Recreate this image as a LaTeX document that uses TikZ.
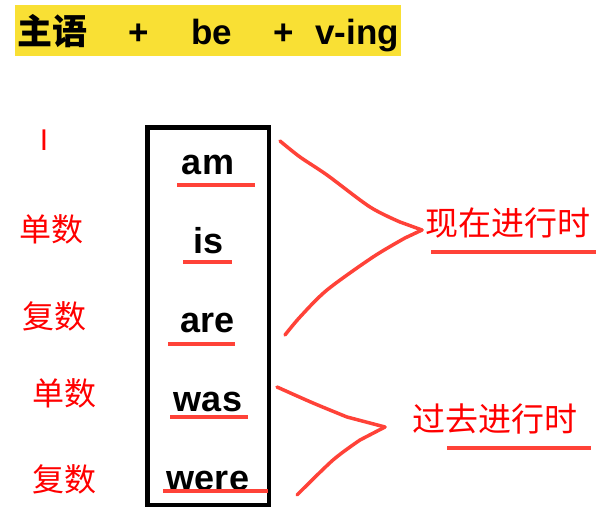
\documentclass[tikz,border=0pt]{standalone}
\usepackage{fontspec}
\setmainfont{Liberation Sans}
\newfontfamily\cjk{Noto Sans CJK SC}
\definecolor{banner}{RGB}{249,224,52}
\definecolor{pen}{RGB}{255,66,56}
\definecolor{label}{RGB}{255,0,0}
\tikzset{
  title/.style={anchor=base, inner sep=0pt, font=\bfseries\fontsize{35}{40}\selectfont},
  word/.style={anchor=base, inner sep=0pt, font=\bfseries\fontsize{36}{40}\selectfont},
  tag/.style={anchor=base, inner sep=0pt, text=label, font=\cjk\fontsize{32}{36}\selectfont},
  uline/.style={draw=pen, line width=4pt},
  bracket/.style={draw=pen, line width=3.5pt, line cap=round, line join=round}
}

\begin{document}
\begin{tikzpicture}[x=1pt, y=-1pt]
\useasboundingbox (0,0) rectangle (599,519);
\fill[banner] (15,5) rectangle (401,56);
\node[title, font=\cjk\bfseries\fontsize{35}{40}\selectfont] (subj) at (52,45) {主语};
\node[title] (plusa) at (139,45) {+};
\node[title] (be) at (212,45) {be};
\node[title] (plusb) at (284,45) {+};
\node[title] (ving) at (357,45) {v-ing};

\draw[line width=4.5pt] (147.5,127.5) rectangle (269,505);
\node[word] (am) at (208,174) {am};
\node[word] (is) at (209,253) {is};
\node[word] (are) at (208,332) {are};
\node[word] (was) at (208,411) {was};
\node[word] (were) at (208,490) {were};
\draw[uline] (177,185) -- (255,185);
\draw[uline] (183,262) -- (232,262);
\draw[uline] (168,344) -- (235,344);
\draw[uline] (170,417) -- (248,417);
\draw[uline] (163,491) -- (268,491);

\node[anchor=base, inner sep=0pt, text=label, font=\fontsize{30}{34}\selectfont] (I) at (44,150) {I};
\node[tag] (sga) at (51,241) {单数};
\node[tag] (pla) at (54,328) {复数};
\node[tag] (sgb) at (64,405) {单数};
\node[tag] (plb) at (64,491) {复数};

\coordinate (now) at (422,230);
\coordinate (past) at (385,427);
\draw[bracket] plot[smooth] coordinates {(280,141) (300,157) (327,175) (370,207) (400,222)} -- (now);
\draw[bracket] (now) -- plot[smooth] coordinates {(405,238) (373,257) (327,290) (300,317) (285,335)};
\draw[bracket] plot[smooth] coordinates {(277,387) (313,403) (347,417)} -- (past);
\draw[bracket] (past) -- plot[smooth] coordinates {(360,440) (333,460) (297,495)};

\node[tag, font=\cjk\fontsize{33}{36}\selectfont] (prog) at (508,235) {现在进行时};
\node[tag, font=\cjk\fontsize{33}{36}\selectfont] (pprog) at (495,431) {过去进行时};
\draw[uline] (431,252) -- (596,252);
\draw[uline] (447,448) -- (591,448);
\end{tikzpicture}
\end{document}
